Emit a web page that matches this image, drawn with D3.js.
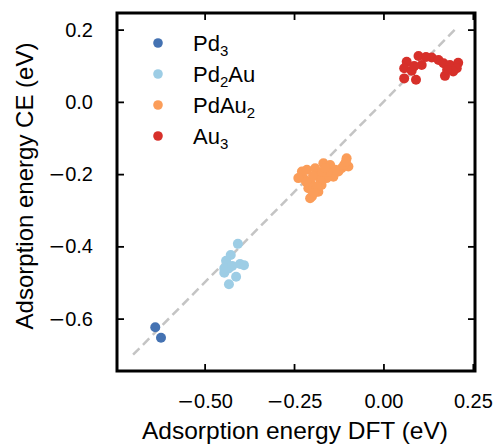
<!DOCTYPE html>
<html>
<head>
<meta charset="utf-8">
<script src="https://cdn.jsdelivr.net/npm/d3@7"></script>
<style>
  html, body { margin: 0; padding: 0; background: #fff; }
  svg text { font-family: "Liberation Sans", Arial, Helvetica, sans-serif; fill: #000; }
</style>
</head>
<body>
<svg id="chart" width="493" height="446"></svg>
<script>
// ---- data ----
const seriesNames = ["Pd3", "Pd2Au", "PdAu2", "Au3"];
const seriesColors = ["#4472b2", "#9dcde5", "#fb9d59", "#d7302a"];

const pd3DFT = [-0.638, -0.622];
const pd3CE  = [-0.624, -0.653];

const pd2auDFT = [-0.407, -0.427, -0.440, -0.433, -0.445, -0.412, -0.432, -0.401, -0.390, -0.445, -0.423];
const pd2auCE  = [-0.393, -0.424, -0.440, -0.461, -0.473, -0.484, -0.505, -0.449, -0.452, -0.461, -0.454];

const pdau2DFT = [-0.103, -0.098, -0.117, -0.168, -0.149, -0.126, -0.140, -0.159, -0.173, -0.182, -0.200,
                  -0.210, -0.224, -0.228, -0.214, -0.191, -0.187, -0.205, -0.177, -0.196, -0.238, -0.205,
                  -0.135, -0.155, -0.172, -0.110, -0.105, -0.197, -0.216, -0.186, -0.194, -0.163];
const pdau2CE  = [-0.156, -0.179, -0.184, -0.170, -0.175, -0.193, -0.207, -0.211, -0.230, -0.249, -0.262,
                  -0.239, -0.211, -0.193, -0.188, -0.184, -0.202, -0.221, -0.216, -0.235, -0.211, -0.267,
                  -0.188, -0.194, -0.194, -0.175, -0.166, -0.205, -0.222, -0.235, -0.252, -0.183];

const au3DFT = [0.065, 0.098, 0.058, 0.079, 0.107, 0.058, 0.091, 0.135, 0.154, 0.168, 0.186, 0.209, 0.205, 0.195, 0.172, 0.178, 0.119, 0.086];
const au3CE  = [0.111, 0.127, 0.093, 0.086, 0.102, 0.065, 0.061, 0.123, 0.116, 0.107, 0.102, 0.108, 0.093, 0.084, 0.072, 0.088, 0.124, 0.099];

const xTicks = [-0.50, -0.25, 0.00, 0.25];
const yTicks = [-0.6, -0.4, -0.2, 0.0, 0.2];
const xDomain = [-0.745, 0.256];
const yDomain = [-0.745, 0.246];
const diagLine = [-0.7, 0.2];
const xLabel = "Adsorption energy DFT (eV)";
const yLabel = "Adsorption energy CE (eV)";

// ---- layout ----
const svg = d3.select("#chart");
const L = 117, R = 475, T = 13, B = 371;
const x = d3.scaleLinear().domain(xDomain).range([L, R]);
const y = d3.scaleLinear().domain(yDomain).range([B, T]);

const series = [
  {name: seriesNames[0], sub: [["Pd",0],["3",1]], color: seriesColors[0], xs: pd3DFT, ys: pd3CE},
  {name: seriesNames[1], sub: [["Pd",0],["2",1],["Au",0]], color: seriesColors[1], xs: pd2auDFT, ys: pd2auCE},
  {name: seriesNames[2], sub: [["PdAu",0],["2",1]], color: seriesColors[2], xs: pdau2DFT, ys: pdau2CE},
  {name: seriesNames[3], sub: [["Au",0],["3",1]], color: seriesColors[3], xs: au3DFT, ys: au3CE},
];

// diagonal
svg.append("line")
  .attr("x1", x(diagLine[0])).attr("y1", y(diagLine[0]))
  .attr("x2", x(diagLine[1])).attr("y2", y(diagLine[1]))
  .attr("stroke", "#c4c4c4").attr("stroke-width", 2.5)
  .attr("stroke-dasharray", "9,5");

// points
series.forEach(s => {
  svg.append("g").selectAll("circle")
    .data(s.xs.map((v, i) => [v, s.ys[i]]))
    .join("circle")
    .attr("cx", d => x(d[0])).attr("cy", d => y(d[1]))
    .attr("r", 5).attr("fill", s.color);
});

// axes with inward ticks
const tickLen = 7;
const fmtX = d3.format(".2f"), fmtY = d3.format(".1f");
function styleAxis(g) {
  g.select(".domain").remove();
  g.selectAll(".tick line").attr("stroke", "#000").attr("stroke-width", 1.8);
}
function styleLabels(sel) {
  sel.attr("font-size", 20).attr("fill", "#000")
    .attr("font-family", "Liberation Sans, Arial, sans-serif")
    .each(function() {
      const el = d3.select(this);
      const txt = el.text();
      if (txt.startsWith("\u2212")) {
        el.text(null);
        el.append("tspan").attr("font-family", "DejaVu Sans").text("\u2212");
        el.append("tspan").text(txt.slice(1));
      }
    });
}
svg.append("g").attr("transform", `translate(0,${B})`)
  .call(d3.axisBottom(x).tickValues(xTicks).tickFormat(fmtX).tickSizeInner(-tickLen).tickSizeOuter(0).tickPadding(tickLen + 16))
  .call(styleAxis)
  .selectAll("text").call(styleLabels);
svg.append("g").attr("transform", `translate(0,${T})`)
  .call(d3.axisTop(x).tickValues(xTicks).tickFormat("").tickSizeInner(-tickLen).tickSizeOuter(0))
  .call(styleAxis);
svg.append("g").attr("transform", `translate(${L},0)`)
  .call(d3.axisLeft(y).tickValues(yTicks).tickFormat(fmtY).tickSizeInner(-tickLen).tickSizeOuter(0).tickPadding(tickLen + 17))
  .call(styleAxis)
  .selectAll("text").call(styleLabels);
svg.append("g").attr("transform", `translate(${R},0)`)
  .call(d3.axisRight(y).tickValues(yTicks).tickFormat("").tickSizeInner(-tickLen).tickSizeOuter(0))
  .call(styleAxis);

// frame
svg.append("rect").attr("x", L).attr("y", T).attr("width", R - L).attr("height", B - T)
  .attr("fill", "none").attr("stroke", "#000").attr("stroke-width", 3);

// axis labels
svg.append("text").attr("x", 295).attr("y", 439)
  .attr("text-anchor", "middle").attr("font-size", 24.5).text(xLabel);
svg.append("text").attr("transform", `translate(33,186) rotate(-90)`)
  .attr("text-anchor", "middle").attr("font-size", 24).text(yLabel);

// legend
const legY0 = 43, legDy = 31;
series.forEach((s, i) => {
  const cy = legY0 + i * legDy;
  svg.append("circle").attr("cx", 158).attr("cy", cy).attr("r", 4.8).attr("fill", s.color);
  const t = svg.append("text").attr("x", 193).attr("y", cy + 8).attr("font-size", 22);
  s.sub.forEach(([str, isSub]) => {
    if (isSub) {
      t.append("tspan").attr("font-size", 15).attr("dy", 5).text(str);
    } else {
      const ts = t.append("tspan").text(str);
      if (t.selectAll("tspan").size() > 1) ts.attr("dy", -5);
    }
  });
});
</script>
</body>
</html>
